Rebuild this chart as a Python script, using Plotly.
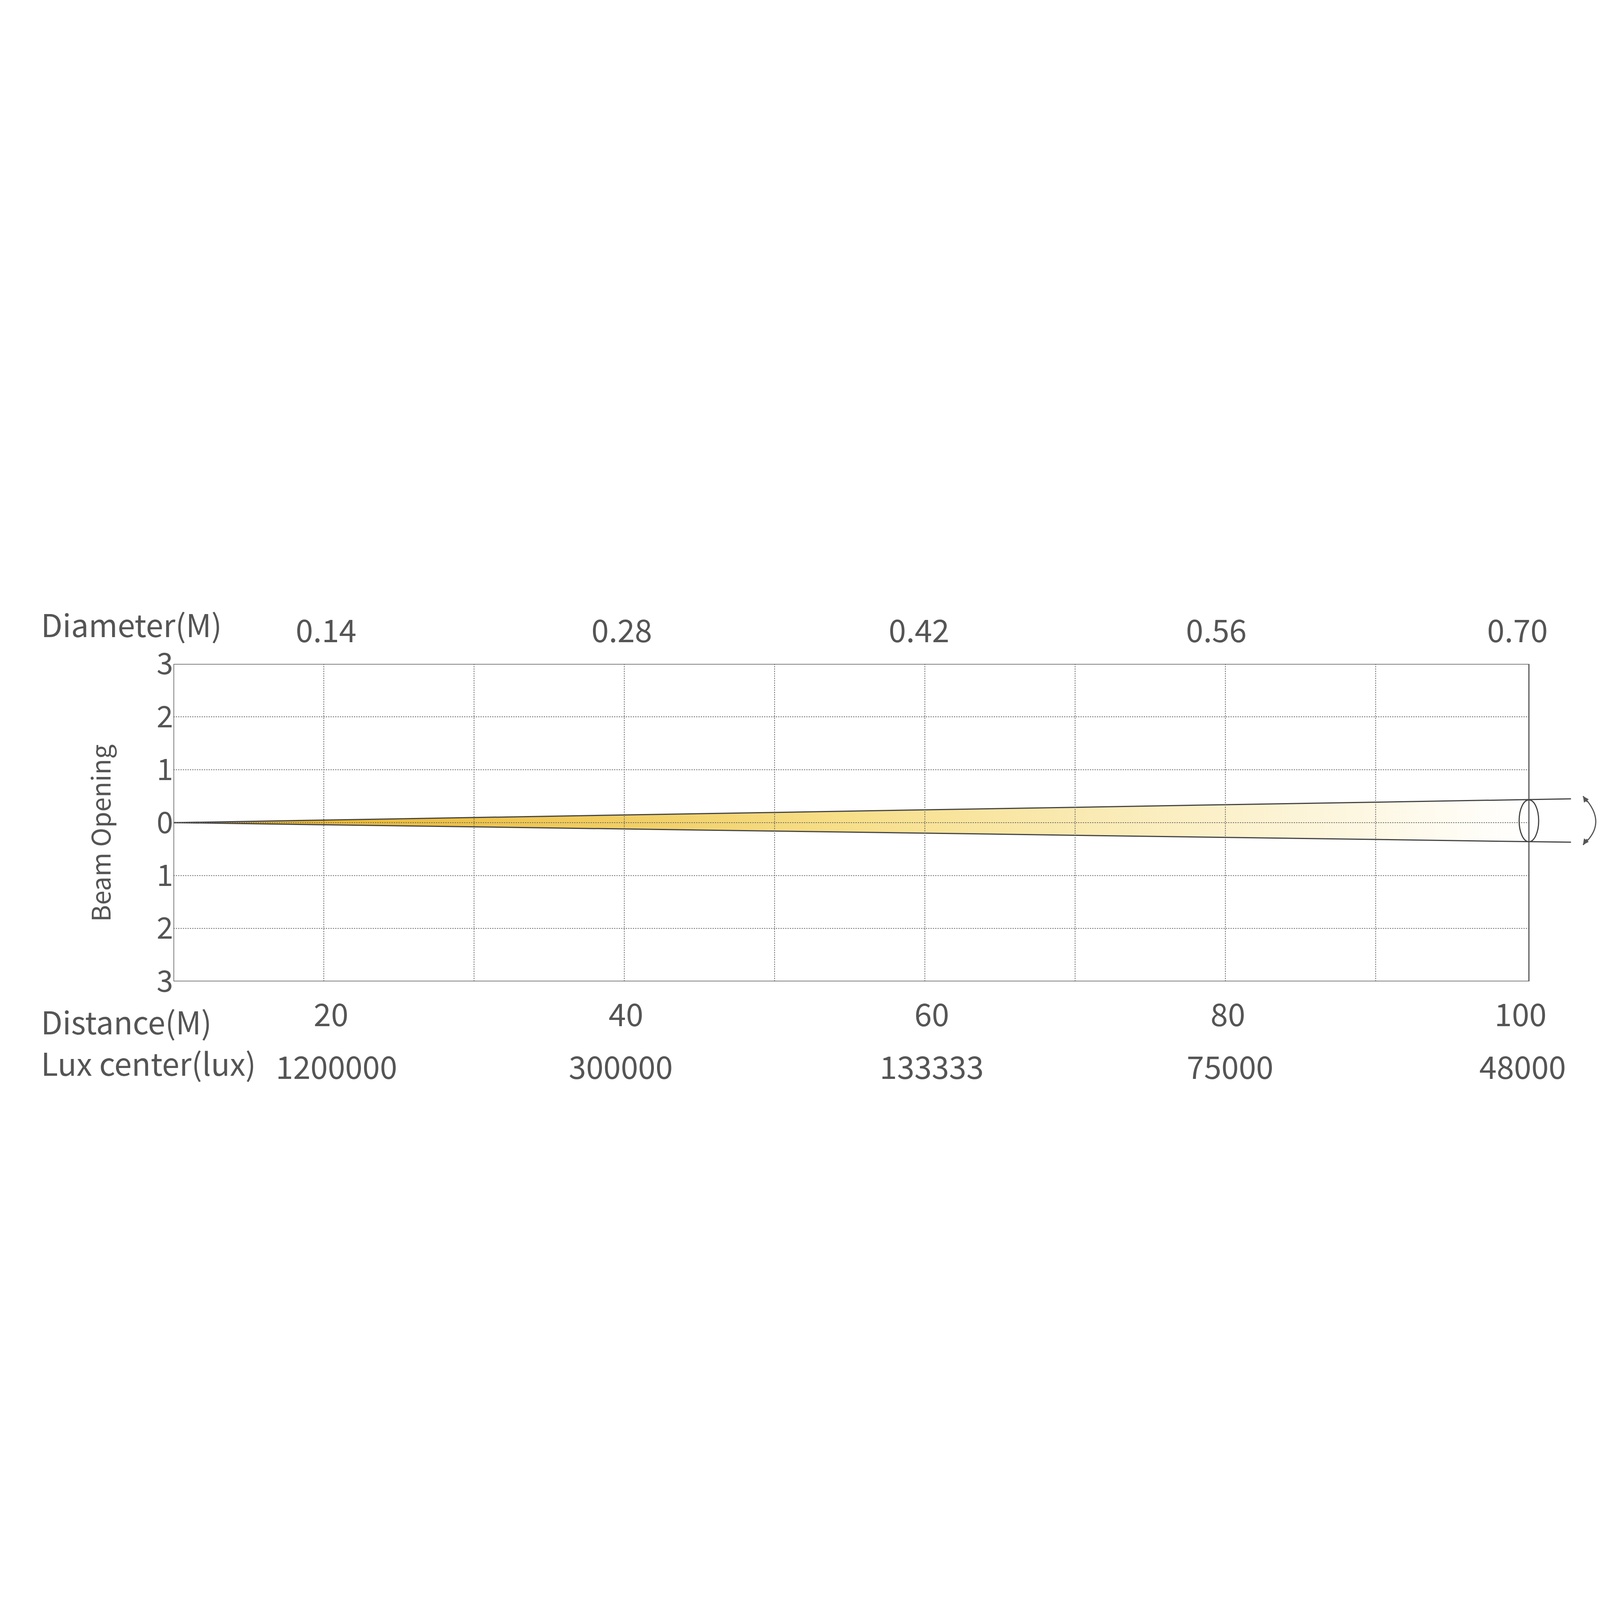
import plotly.graph_objects as go

diam_labels = ["0.14", "0.28", "0.42", "0.56", "0.70"]
diam_px = [303, 581, 860, 1139, 1422]
dist_labels = ["20", "40", "60", "80", "100"]
dist_px = [308, 585, 872, 1150, 1425]
lux_labels = ["1200000", "300000", "133333", "75000", "48000"]
lux_px = [313, 580, 872, 1152, 1427]
y_vals = [3, 2, 1, 0, -1, -2, -3]
y_text = ["3", "2", "1", "0", "1", "2", "3"]
beam_angle = "0.4°"

S = 1560.0
FONT = "Noto Sans CJK SC"
TC = "#555555"
XR = 9.02
fig = go.Figure()

fig.add_trace(go.Scatter(x=[0, XR, XR, 0], y=[0, 0.43, -0.36, 0], mode="lines",
                         line=dict(width=0), fill="toself",
                         fillgradient=dict(type="horizontal",
                                           colorscale=[[0, "#e6ad1a"], [0.5, "#f7df8a"], [1, "#ffffff"]]),
                         hoverinfo="skip", showlegend=False))
for yy in [0.45, -0.37]:
    fig.add_trace(go.Scatter(x=[0, 9.3], y=[0, yy], mode="lines",
                             line=dict(color="#444", width=3), showlegend=False))

shapes = []
for i in range(1, 9):
    shapes.append(dict(type="line", x0=i, x1=i, y0=-3, y1=3, xref="x", yref="y",
                       line=dict(color="#666", width=2, dash="dot")))
for j in [-2, -1, 0, 1, 2]:
    shapes.append(dict(type="line", x0=0, x1=XR, y0=j, y1=j, xref="x", yref="y",
                       line=dict(color="#666", width=2, dash="dot")))
shapes.append(dict(type="rect", x0=0, x1=XR, y0=-3, y1=3, xref="x", yref="y",
                   line=dict(color="#555", width=3)))
shapes.append(dict(type="circle", x0=XR - 0.065, x1=XR + 0.065, y0=-0.36, y1=0.43,
                   xref="x", yref="y", line=dict(color="#444", width=3)))
shapes.append(dict(type="path", path="M 9.38 0.5 Q 9.55 0 9.38 -0.42", xref="x", yref="y",
                   line=dict(color="#555", width=3)))
fig.update_layout(shapes=shapes)

ann = []
def txt(t, px, py, size=80, xa="center", angle=0):
    ann.append(dict(text=t, x=px / S, y=1 - py / S, xref="paper", yref="paper",
                    showarrow=False, xanchor=xa, yanchor="middle", textangle=angle,
                    font=dict(family=FONT, size=size, color=TC)))

txt("Diameter(M)", 35, 575, xa="left")
txt("Distance(M)", 35, 958, xa="left")
txt("Lux center(lux)", 35, 998, xa="left")
for t, p in zip(diam_labels, diam_px):
    txt(t, p, 580)
for t, p in zip(dist_labels, dist_px):
    txt(t, p, 950)
for t, p in zip(lux_labels, lux_px):
    txt(t, p, 1001)
txt("Beam Opening", 90, 777, size=66, angle=-90)
ann.append(dict(text=beam_angle, x=9.68, y=0.05, xref="x", yref="y", showarrow=False,
                xanchor="center", yanchor="middle", textangle=-90,
                font=dict(family=FONT, size=80, color=TC)))
for (ax, ay, x, y) in [(9.41, 0.38, 9.38, 0.5), (9.41, -0.3, 9.38, -0.42)]:
    ann.append(dict(x=x, y=y, ax=ax, ay=ay, xref="x", yref="y", axref="x", ayref="y",
                    showarrow=True, arrowhead=2, arrowsize=1, arrowwidth=3,
                    arrowcolor="#555", text=""))
fig.update_layout(annotations=ann)

fig.update_layout(
    width=4253, height=4253, margin=dict(l=0, r=0, t=0, b=0),
    paper_bgcolor="white", plot_bgcolor="white",
    xaxis=dict(range=[0, 9.7], domain=[160 / S, (160 + 9.7 * 141.1) / S],
               showgrid=False, zeroline=False, showticklabels=False, ticks=""),
    yaxis=dict(range=[-3, 3], domain=[1 - 920 / S, 1 - 614 / S],
               showgrid=False, zeroline=False, tickvals=y_vals, ticktext=y_text,
               ticks="", ticklen=0,
               tickfont=dict(family=FONT, size=76, color=TC)),
    showlegend=False,
)
fig.write_html("out.html")
